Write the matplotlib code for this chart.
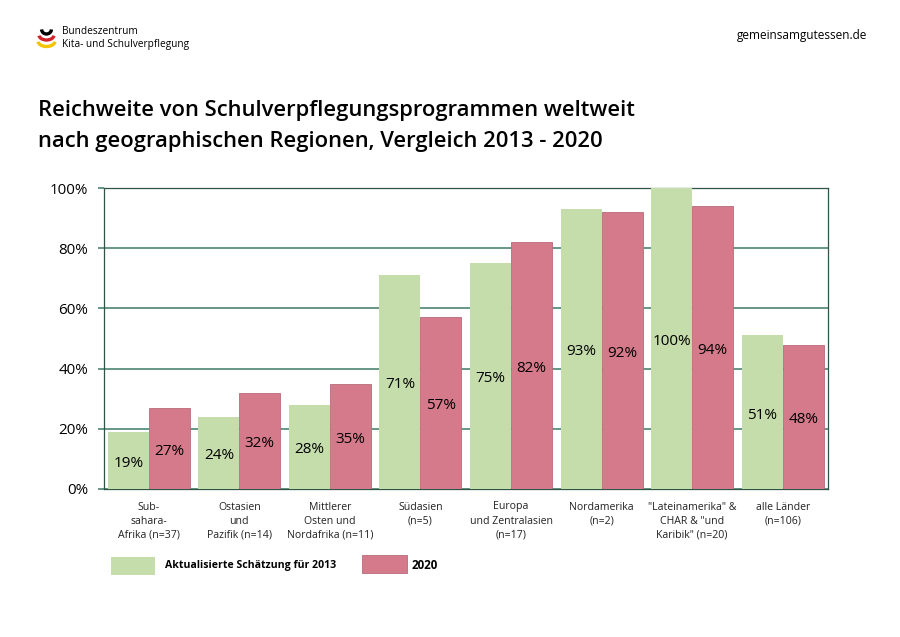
import matplotlib
matplotlib.use("Agg")
import matplotlib.pyplot as plt
from matplotlib.patches import Rectangle, Arc
import numpy as np

plt.rcParams['font.family'] = ['Open Sans', 'DejaVu Sans']

categories = ["Sub-\nsahara-\nAfrika (n=37)", "Ostasien\nund\nPazifik (n=14)",
              "Mittlerer\nOsten und\nNordafrika (n=11)", "Südasien\n(n=5)\n ",
              "Europa\nund Zentralasien\n(n=17)", "Nordamerika\n(n=2)\n ",
              "\"Lateinamerika\" &\nCHAR & \"und\nKaribik\" (n=20)", "alle Länder\n(n=106)\n "]
values_2013 = [19, 24, 28, 71, 75, 93, 100, 51]
values_2020 = [27, 32, 35, 57, 82, 92, 94, 48]
yticks = [0, 20, 40, 60, 80, 100]

GREEN = '#c5dcab'
RED = '#d57a8a'
W, H = 900, 637

fig = plt.figure(figsize=(9, 6.37), dpi=100)
ax = fig.add_axes([103.5 / W, 1 - 489 / H, 724.5 / W, 301 / H])

x = np.arange(len(categories))
bw = 0.453
ax.bar(x - bw / 2, values_2013, bw, color=GREEN, zorder=3)
ax.bar(x + bw / 2, values_2020, bw, color=RED, edgecolor='#b86a7a', linewidth=0.6, zorder=3)

for i in x:
    ax.annotate(f"{values_2013[i]}%", (i - bw / 2, values_2013[i] / 2), xytext=(0, -2),
                textcoords='offset points', ha='center', va='center', fontsize=11, zorder=4)
    ax.annotate(f"{values_2020[i]}%", (i + bw / 2, values_2020[i] / 2), xytext=(0, -2),
                textcoords='offset points', ha='center', va='center', fontsize=11, zorder=4)

ax.set_xlim(-0.5, 7.5)
ax.set_ylim(0, 100)
ax.set_yticks(yticks)
ax.set_yticklabels([f"{v}%" for v in yticks], fontsize=10.9)
ax.set_xticks(x)
ax.set_xticklabels(categories, fontsize=7.6, linespacing=1.4, color='#222222')
ax.tick_params(axis='x', length=0, pad=9)
ax.tick_params(axis='y', length=4, width=1.1, color='#3f7a66', pad=7)
ax.grid(axis='y', color='#3f7a66', linewidth=1.1, zorder=1)
for side in ['top', 'left', 'right', 'bottom']:
    ax.spines[side].set_color('#2f5548')
    ax.spines[side].set_linewidth(0.9)
    ax.spines[side].set_zorder(2)

# everything outside the plot is placed in pixel coordinates
over = fig.add_axes([0, 0, 1, 1], zorder=5)
over.set_xlim(0, W)
over.set_ylim(H, 0)
over.axis('off')

over.text(38, 110.5, "Reichweite von Schulverpflegungsprogrammen weltweit", fontsize=15.85,
          fontweight='semibold', va='center', ha='left')
over.text(38, 141.5, "nach geographischen Regionen, Vergleich 2013 - 2020", fontsize=15.85,
          fontweight='semibold', va='center', ha='left')
over.text(867, 35, "gemeinsamgutessen.de", fontsize=8.5, va='center', ha='right')

over.text(62, 31, "Bundeszentrum", fontsize=7.3, va='center', ha='left')
over.text(62, 44, "Kita- und Schulverpflegung", fontsize=7.3, va='center', ha='left')

# logo arcs
for cy, w, h, col in [(29, 10, 10, 'black'), (35, 15, 10, '#d2232a'), (41, 17, 11, '#f5c400')]:
    over.add_patch(Arc((46.5, cy), w, h, theta1=5, theta2=175, color=col, linewidth=2.4))

# legend
over.add_patch(Rectangle((111, 557), 44, 18, facecolor=GREEN, edgecolor='none'))
over.text(165, 565.5, "Aktualisierte Schätzung für 2013", fontsize=7.6, fontweight='bold',
          va='center', ha='left')
over.add_patch(Rectangle((362, 555), 45, 18, facecolor=RED, edgecolor='#b86a7a', linewidth=0.6))
over.text(412, 565.5, "2020", fontsize=8.4, fontweight='bold', va='center', ha='left')

fig.savefig('out.png', dpi=100)
